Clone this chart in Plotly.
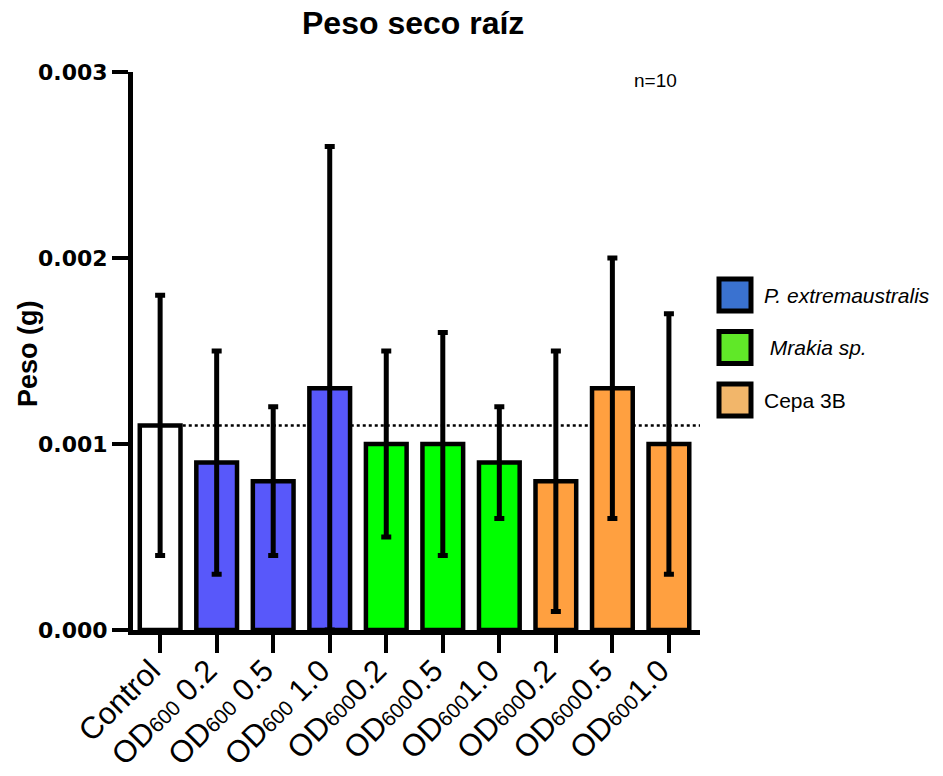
import plotly.graph_objects as go

SUB = '<span style="font-size:21px">600</span>'
categories = ["Control", "OD" + SUB + " 0.2", "OD" + SUB + " 0.5", "OD" + SUB + " 1.0",
              "OD" + SUB + "0.2", "OD" + SUB + "0.5", "OD" + SUB + "1.0",
              "OD" + SUB + "0.2", "OD" + SUB + "0.5", "OD" + SUB + "1.0"]
means = [0.0011, 0.0009, 0.0008, 0.0013, 0.0010, 0.0010, 0.0009, 0.0008, 0.0013, 0.0010]
upper = [0.0018, 0.0015, 0.0012, 0.0026, 0.0015, 0.0016, 0.0012, 0.0015, 0.0020, 0.0017]
lower = [0.0004, 0.0003, 0.0004, 0.0000, 0.0005, 0.0004, 0.0006, 0.0001, 0.0006, 0.0003]
bar_colors = ["#FFFFFF", "#5858FA", "#5858FA", "#5858FA", "#00FF00", "#00FF00", "#00FF00",
              "#FFA040", "#FFA040", "#FFA040"]
legend_names = ["<i>P. extremaustralis</i>", "<i> Mrakia sp.</i>", "Cepa 3B"]
legend_colors = ["#3A72D0", "#60E828", "#F2B66A"]
y_ticks = [0, 0.001, 0.002, 0.003]
y_tick_labels = ["0.000", "0.001", "0.002", "0.003"]

err_plus = [u - m for u, m in zip(upper, means)]
err_minus = [m - l for m, l in zip(means, lower)]

FONT = "Liberation Sans, Arial, sans-serif"
W, H = 943, 776
L, R, T, B = 133, 243, 72, 146
pw, ph = W - L - R, H - T - B


def px_x(x):
    return (x - L) / pw


def px_y(y):
    return (H - B - y) / ph


fig = go.Figure()
fig.add_trace(go.Bar(
    x=list(range(len(categories))), y=means, width=0.72,
    marker=dict(color=bar_colors, line=dict(color="black", width=4.5)),
    error_y=dict(type="data", symmetric=False, array=err_plus, arrayminus=err_minus,
                 color="black", thickness=5, width=5),
    showlegend=False,
))

shapes = [dict(type="line", xref="x", yref="y", x0=0.4, x1=9.55, y0=means[0], y1=means[0],
               line=dict(color="black", width=2.5, dash="dot"), layer="below")]

annotations = [
    dict(text="<b>Peso seco raíz</b>", x=px_x(413), y=px_y(23), xref="paper", yref="paper",
         xanchor="center", yanchor="middle", showarrow=False,
         font=dict(size=32, family=FONT, color="black")),
    dict(text="n=10", x=px_x(655), y=px_y(80), xref="paper", yref="paper",
         xanchor="center", yanchor="middle", showarrow=False,
         font=dict(size=19, family=FONT, color="black")),
    dict(text="<b>Peso (g)</b>", x=px_x(28), y=px_y(354), xref="paper", yref="paper",
         xanchor="center", yanchor="middle", textangle=-90, showarrow=False,
         font=dict(size=27, family=FONT, color="black")),
]

for i, (name, col) in enumerate(zip(legend_names, legend_colors)):
    top = 279 + i * 52.5
    shapes.append(dict(type="rect", xref="paper", yref="paper",
                       x0=px_x(719), x1=px_x(751), y0=px_y(top), y1=px_y(top + 32),
                       fillcolor=col, line=dict(color="black", width=5)))
    annotations.append(dict(text=name, x=px_x(762), y=px_y(top + 16), xref="paper", yref="paper",
                            xanchor="left", yanchor="middle", showarrow=False,
                            font=dict(size=21, family=FONT, color="black")))

fig.update_layout(
    width=W, height=H,
    margin=dict(l=L, r=R, t=T, b=B, autoexpand=False),
    paper_bgcolor="white", plot_bgcolor="white",
    shapes=shapes, annotations=annotations,
    xaxis=dict(range=[-0.48, 9.55], tickmode="array", tickvals=list(range(len(categories))),
               ticktext=categories, tickangle=-45, ticks="outside", ticklen=18, tickwidth=4,
               tickcolor="black", showline=True, linewidth=5, linecolor="black",
               showgrid=False, zeroline=False, automargin=False,
               ticklabelstandoff=-13, ticklabelshift=-9,
               tickfont=dict(size=31, family=FONT, color="black")),
    yaxis=dict(range=[0, 0.003], tickmode="array", tickvals=y_ticks,
               ticktext=["<b>%s</b>" % t for t in y_tick_labels],
               ticks="outside", ticklen=16, tickwidth=4, tickcolor="black",
               showline=True, linewidth=5, linecolor="black", showgrid=False, zeroline=False,
               automargin=False,
               tickfont=dict(size=22, family="DejaVu Sans, sans-serif", color="black")),
)

fig.write_html("out.html", config={"displayModeBar": False},
               post_script="document.body.style.margin='0';document.body.style.overflow='hidden';")
